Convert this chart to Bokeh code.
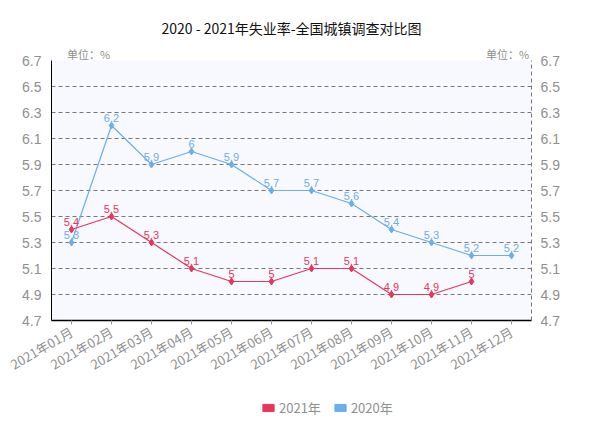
import math
from bokeh.plotting import figure
from bokeh.layouts import column
from bokeh.models import (ColumnDataSource, Range1d, FixedTicker, LinearAxis,
                          Legend, LegendItem, CustomJSTickFormatter)
from bokeh.core.properties import value
from bokeh.embed import file_html
from bokeh.resources import INLINE

months = ["2021年01月", "2021年02月", "2021年03月", "2021年04月", "2021年05月", "2021年06月",
          "2021年07月", "2021年08月", "2021年09月", "2021年10月", "2021年11月", "2021年12月"]
rate_2021 = [5.4, 5.5, 5.3, 5.1, 5.0, 5.0, 5.1, 5.1, 4.9, 4.9, 5.0]
rate_2020 = [5.3, 6.2, 5.9, 6.0, 5.9, 5.7, 5.7, 5.6, 5.4, 5.3, 5.2, 5.2]
y_ticks = [4.7, 4.9, 5.1, 5.3, 5.5, 5.7, 5.9, 6.1, 6.3, 6.5, 6.7]
series_names = ["2021年", "2020年"]
title_text = "2020 - 2021年失业率-全国城镇调查对比图"
unit_text = "单位：%"

RED = "#e8365a"
BLUE = "#6aaeea"
FONT = "Noto Sans CJK SC"
NUMFONT = "Liberation Sans"
GRAY = "#8f8f8f"

idx = list(range(len(months)))

p = figure(width=594, height=395, output_backend="svg", toolbar_location=None,
           x_range=Range1d(-0.5, len(months) - 0.5),
           y_range=Range1d(y_ticks[0], y_ticks[-1]),
           min_border_left=51, min_border_right=63, min_border_top=60, min_border_bottom=75)

xax = p.below[0]
yax = p.left[0]

p.title.text = title_text
p.title.align = "center"
p.title.text_font = FONT
p.title.text_font_size = "14px"
p.title.text_font_style = "normal"
p.title.text_color = "#111111"
p.title.offset = 0
p.title.standoff = 10

p.background_fill_color = "#f8f9fe"
p.border_fill_color = "white"
p.outline_line_color = None

# grids
p.xgrid.grid_line_color = None
p.ygrid.ticker = FixedTicker(ticks=y_ticks)
p.ygrid.grid_line_color = "#777777"
p.ygrid.grid_line_dash = "4 3"
p.ygrid.grid_line_width = 1

# left axis
yax.ticker = FixedTicker(ticks=y_ticks)
yax.formatter = CustomJSTickFormatter(code="return tick.toFixed(1);")
yax.axis_line_color = "#000000"
yax.major_tick_line_color = None
yax.minor_tick_line_color = None
yax.major_label_text_font = NUMFONT
yax.major_label_text_font_size = "14px"
yax.major_label_text_color = GRAY
yax.major_label_standoff = 4

# bottom axis
xax.ticker = FixedTicker(ticks=idx)
xax.major_label_overrides = {i: m for i, m in zip(idx, months)}
xax.minor_tick_line_color = None
xax.axis_line_color = "#000000"
xax.axis_line_width = 1.5
xax.major_tick_line_color = "#999999"
xax.major_tick_out = 4
xax.major_tick_in = 0
xax.major_label_orientation = math.pi / 6
xax.major_label_text_font = FONT
xax.major_label_text_font_size = "13px"
xax.major_label_text_color = GRAY
xax.major_label_standoff = 6

# right axis
rax = LinearAxis(ticker=FixedTicker(ticks=y_ticks),
                 formatter=CustomJSTickFormatter(code="return tick.toFixed(1);"))
rax.axis_line_color = "#777777"
rax.axis_line_dash = "4 3"
rax.major_tick_line_color = None
rax.minor_tick_line_color = None
rax.major_label_text_font = NUMFONT
rax.major_label_text_font_size = "14px"
rax.major_label_text_color = GRAY
rax.major_label_standoff = 3
p.add_layout(rax, "right")

# unit labels as an axis above the frame
p.extra_x_ranges = {"unit": Range1d(0, 480)}
uax = LinearAxis(x_range_name="unit", ticker=FixedTicker(ticks=[37, 456]),
                 major_label_overrides={37: unit_text, 456: unit_text})
uax.axis_line_color = None
uax.major_tick_line_color = None
uax.minor_tick_line_color = None
uax.major_label_text_font = FONT
uax.major_label_text_font_size = "11px"
uax.major_label_text_color = GRAY
uax.major_label_standoff = -7
p.add_layout(uax, "above")

src21 = ColumnDataSource(dict(x=idx[:len(rate_2021)], y=rate_2021,
                              t=[f"{v:g}" for v in rate_2021]))
src20 = ColumnDataSource(dict(x=idx[:len(rate_2020)], y=rate_2020,
                              t=[f"{v:g}" for v in rate_2020]))

for src, col in ((src20, BLUE), (src21, RED)):
    p.line("x", "y", source=src, line_color=col, line_width=1.2)
    p.scatter("x", "y", source=src, marker="diamond", size=7, color=col)
    p.text("x", "y", text="t", source=src, text_color=col, text_font=value(NUMFONT),
           text_font_size="11px", text_align="center", text_baseline="bottom", y_offset=-4)

# legend in a small strip figure below the chart
leg_fig = figure(width=594, height=30, output_backend="svg", toolbar_location=None,
                 x_range=Range1d(0, 1), y_range=Range1d(0, 1),
                 x_axis_type=None, y_axis_type=None, min_border=0)
leg_fig.outline_line_color = None
leg_fig.background_fill_color = "white"
leg_fig.border_fill_color = "white"
r_leg21 = leg_fig.rect(x=[-5], y=[-5], width=0.1, height=0.1, fill_color=RED, line_color=RED)
r_leg20 = leg_fig.rect(x=[-5], y=[-5], width=0.1, height=0.1, fill_color=BLUE, line_color=BLUE)
legend = Legend(items=[LegendItem(label=series_names[0], renderers=[r_leg21]),
                       LegendItem(label=series_names[1], renderers=[r_leg20])],
                location=(210, 8), orientation="horizontal",
                glyph_width=14, glyph_height=9, label_height=14, label_standoff=4,
                spacing=12, padding=0, margin=0,
                label_text_font=FONT, label_text_font_size="13px", label_text_color=GRAY,
                border_line_color=None, background_fill_alpha=0)
leg_fig.add_layout(legend, "center")

layout = column(p, leg_fig, spacing=0)
open("out.html", "w").write(file_html(layout, INLINE))
